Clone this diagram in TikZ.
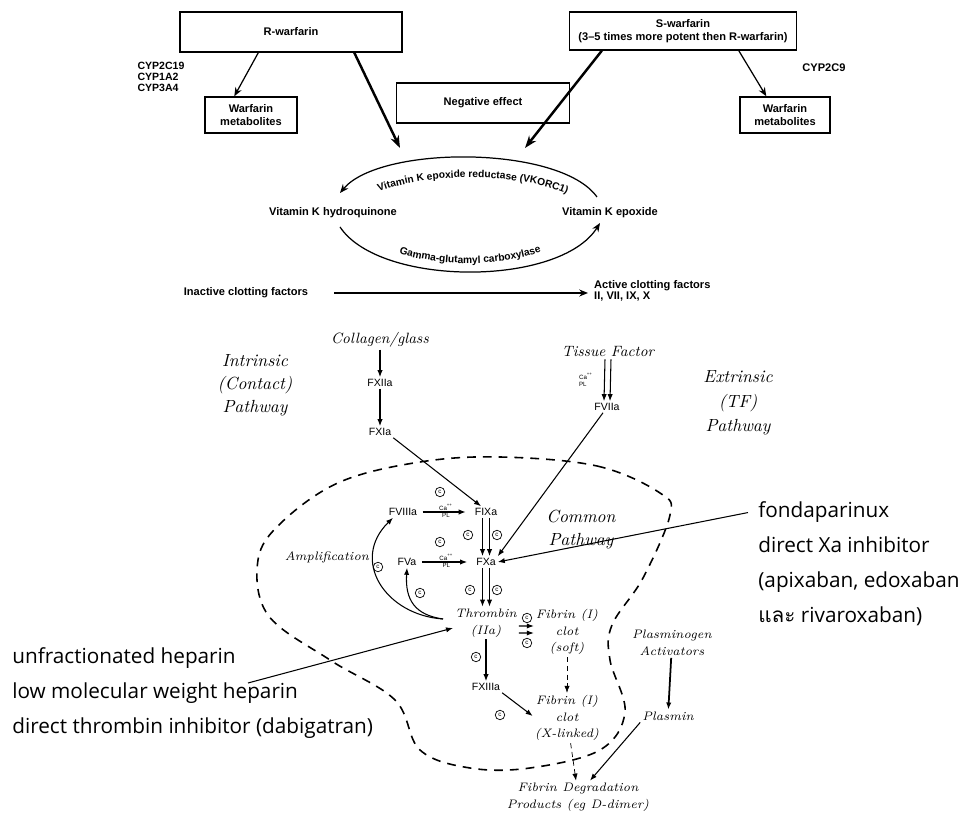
\documentclass[tikz,border=0pt]{standalone}
\usepackage{fontspec}
\newfontfamily\labelfont{Liberation Sans}
\newfontfamily\drugfont{Open Sans}
\newfontfamily\thaifont[Script=Thai]{Loma}
\usetikzlibrary{arrows.meta, positioning, decorations.text}

\tikzset{
    wbox/.style={draw=black, line width=0.8pt, align=center,
        font=\labelfont\bfseries\fontsize{6.3}{7.3}\selectfont},
    toptext/.style={align=center, font=\labelfont\bfseries\fontsize{6.3}{7.3}\selectfont},
    hand/.style={align=center, font=\itshape\fontsize{10}{13}\selectfont},
    handsm/.style={align=center, inner sep=1pt, font=\itshape\fontsize{7}{9.6}\selectfont},
    fac/.style={align=center, inner sep=1pt, font=\labelfont\fontsize{6}{7}\selectfont},
    capl/.style={inner sep=0.5pt, font=\labelfont\fontsize{3.5}{4}\selectfont},
    drug/.style={anchor=base west, inner sep=0pt, font=\drugfont\fontsize{11.8}{13}\selectfont},
    numc/.style={circle, draw, line width=0.4pt, inner sep=0pt, minimum size=0.19cm,
        font=\labelfont\fontsize{3.5}{4}\selectfont},
    arr/.style={-{Stealth[length=5pt, width=4pt]}, line width=0.7pt},
    thickarr/.style={-{Stealth[length=7pt, width=5pt]}, line width=1.4pt},
    carr/.style={-{Latex[length=4pt, width=3pt]}, line width=0.6pt},
}

\begin{document}
\begin{tikzpicture}[x=0.02cm, y=-0.02cm]
    \useasboundingbox (0,0) rectangle (964,813);

    % warfarin part
    \node[wbox, minimum width=4.44cm, minimum height=0.8cm] (rwarf) at (291,32) {R-warfarin};
    \node[wbox, minimum width=4.54cm, minimum height=0.76cm] (swarf) at (683,31)
        {S-warfarin\\(3–5 times more potent then R-warfarin)};
    \node[wbox, minimum width=3.46cm, minimum height=0.8cm] (negeff) at (483,103) {Negative effect};
    \node[wbox, minimum width=1.84cm, minimum height=0.72cm] (metabL) at (251,115) {Warfarin\\metabolites};
    \node[wbox, minimum width=1.8cm, minimum height=0.72cm] (metabR) at (785,115) {Warfarin\\metabolites};
    \node[toptext, align=left, font=\labelfont\bfseries\fontsize{6}{6.2}\selectfont] (cypL) at (161,77)
        {CYP2C19\\CYP1A2\\CYP3A4};
    \node[toptext] (cypR) at (824,68) {CYP2C9};

    \coordinate (tipR) at (400,148);
    \coordinate (tipS) at (525,148);
    \draw[arr] ([xshift=1.58cm]rwarf.south west) -- ([xshift=0.6cm]metabL.north west);
    \draw[arr] ([xshift=3.4cm]swarf.south west) -- ([xshift=0.54cm]metabR.north west);
    \draw[thickarr] ([xshift=3.5cm]rwarf.south west) -- (tipR);
    \draw[thickarr] ([xshift=0.66cm]swarf.south west) -- (tipS);

    % vitamin K cycle
    \node[toptext] (vkhq) at (333,213) {Vitamin K hydroquinone};
    \node[toptext] (vkepo) at (610,213) {Vitamin K epoxide};
    \coordinate (upA) at (597,197);
    \coordinate (upB) at (340,193);
    \coordinate (loA) at (340,227);
    \coordinate (loB) at (600,223);
    \draw[arr] (upA) .. controls (560,145) and (380,145) .. (upB);
    \draw[arr] (loA) .. controls (380,287) and (560,287) .. (loB);
    \path[decorate, decoration={text along path, text align=center,
        text={|\labelfont\bfseries\fontsize{5.8}{7}\selectfont|Vitamin K epoxide reductase (VKORC1)}}]
        (355,205) .. controls (400,168) and (545,168) .. (590,208);
    \path[decorate, decoration={text along path, text align=center,
        text={|\labelfont\bfseries\fontsize{5.8}{7}\selectfont|Gamma-glutamyl carboxylase}}]
        (370,238) .. controls (410,272) and (530,272) .. (570,236);

    \node[toptext] (inact) at (246,293) {Inactive clotting factors};
    \node[toptext, align=left, anchor=west, font=\labelfont\bfseries\fontsize{6.3}{6.6}\selectfont] (active) at (588,291)
        {Active clotting factors\\II, VII, IX, X};
    \draw[arr, shorten <=0.4cm] (inact.east) -- (active.west |- inact.east);

    % coagulation cascade
    \node[hand] (intrinsic) at (255,385) {Intrinsic\\(Contact)\\Pathway};
    \node[hand, font=\itshape\fontsize{10}{14}\selectfont] (extrinsic) at (738,403) {Extrinsic\\(TF)\\Pathway};
    \node[hand] (common) at (581,530) {Common\\Pathway};
    \node[handsm] (amplif) at (327,557) {Amplification};

    \node[handsm, font=\itshape\fontsize{8.5}{10}\selectfont] (collagen) at (380,340) {Collagen/glass};
    \node[fac] (fxiia) at (380,383) {FXIIa};
    \node[fac] (fxia) at (380,432) {FXIa};
    \node[handsm, font=\itshape\fontsize{8.5}{10}\selectfont] (tf) at (608,352) {Tissue Factor};
    \node[fac] (fviia) at (607,407) {FVIIa};

    \node[fac] (fviiia) at (403,512) {FVIIIa};
    \node[fac] (fixa) at (486,512) {FIXa};
    \node[fac] (fva) at (407,562) {FVa};
    \node[fac] (fxa) at (486,562) {FXa};
    \node[handsm] (thromb) at (486,623) {Thrombin\\(IIa)};
    \node[handsm] (fibsoft) at (567,632) {Fibrin (I)\\clot\\(soft)};
    \node[fac] (fxiiia) at (486,687) {FXIIIa};
    \node[handsm] (fiblink) at (567,718) {Fibrin (I)\\clot\\(X-linked)};
    \node[handsm] (plasact) at (672,643) {Plasminogen\\Activators};
    \node[handsm] (plasmin) at (668,716) {Plasmin};
    \node[handsm] (fdp) at (578,797) {Fibrin Degradation\\Products (eg D-dimer)};

    \draw[carr] (collagen) -- (fxiia);
    \draw[carr] (fxiia) -- (fxia);
    \draw[carr] (fxia.south east) -- ([xshift=-0.1cm]fixa.north);
    \draw[carr] ([xshift=-0.06cm]tf.south) -- ([xshift=-0.06cm]fviia.north);
    \draw[carr] ([xshift=0.06cm]tf.south) -- ([xshift=0.06cm]fviia.north);
    \node[capl, align=left] (tfca) at (586,380) {Ca\textsuperscript{++}\\PL};
    \draw[carr] ([xshift=-0.08cm]fviia.south) -- (fxa.north east);

    \draw[carr, shorten <=2pt, shorten >=4pt] (fviiia) -- (fixa)
        node[capl, midway, above] {Ca\textsuperscript{++}} node[capl, midway, below] {PL};
    \draw[carr, shorten <=2pt, shorten >=4pt] (fva) -- (fxa)
        node[capl, midway, above] {Ca\textsuperscript{++}} node[capl, midway, below] {PL};
    \draw[carr] ([xshift=-0.07cm]fixa.south) -- ([xshift=-0.07cm]fxa.north);
    \draw[carr] ([xshift=0.07cm]fixa.south) -- ([xshift=0.07cm]fxa.north);
    \draw[carr] ([xshift=-0.07cm]fxa.south) -- ([xshift=-0.07cm]thromb.north);
    \draw[carr] ([xshift=0.07cm]fxa.south) -- ([xshift=0.07cm]thromb.north);

    \coordinate (ampl) at (443,619);
    \draw[carr] (ampl) .. controls (385,615) and (350,560) .. ([xshift=-0.2cm]fviiia.south);
    \draw[carr] (ampl) .. controls (415,615) and (405,600) .. (fva.south);

    \draw[carr] ([yshift=-0.06cm]thromb.east) -- ([yshift=0.12cm]fibsoft.west);
    \draw[carr] ([yshift=-0.2cm]thromb.east) -- ([yshift=-0.02cm]fibsoft.west);
    \draw[carr] (thromb) -- (fxiiia);
    \draw[carr, densely dashed, line width=0.4pt] (fibsoft) -- (fiblink);
    \draw[carr] (fxiiia.south east) -- ([yshift=0.04cm]fiblink.west);
    \draw[carr, line width=1pt] (plasact) -- (plasmin);
    \draw[carr] (plasmin.south west) -- ([xshift=0.24cm]fdp.north);
    \draw[carr, densely dashed, line width=0.4pt] (fiblink) -- ([xshift=-0.04cm]fdp.north);

    % circled marks
    \foreach \cx/\cy in {440/492, 440/542, 468/535, 497/535, 470/590, 497/590,
        527/618, 527/643, 476/657, 500/715, 378/567, 420/593}
        \node[numc] at (\cx,\cy) {c};

    % common pathway border
    \draw[dashed, line width=0.9pt, dash pattern=on 5pt off 4pt] plot[smooth cycle, tension=0.6] coordinates {
        (500,457) (597,466) (660,493) (670,515) (643,578) (612,625) (610,660)
        (625,712) (600,750) (530,768) (470,768) (420,750) (395,700) (330,660)
        (268,615) (258,560) (282,522) (340,482) (420,462)};

    % drugs
    \node[drug] (ufh) at (12,664) {unfractionated heparin};
    \node[drug] (lmwh) at (12,699) {low molecular weight heparin};
    \node[drug] (dti) at (12,734) {direct thrombin inhibitor (dabigatran)};
    \node[drug] (fonda) at (758,518) {fondaparinux};
    \node[drug] (dxa) at (758,553) {direct Xa inhibitor};
    \node[drug] (apix) at (758,588) {(apixaban, edoxaban};
    \node[drug] (riva) at (758,623) {{\thaifont และ} rivaroxaban)};

    \coordinate (hepstart) at (248,683);
    \draw[carr] (hepstart) -- ([yshift=-0.1cm]thromb.west);
    \draw[carr] ([xshift=-0.2cm]fonda.west) -- (fxa.east);
\end{tikzpicture}
\end{document}
